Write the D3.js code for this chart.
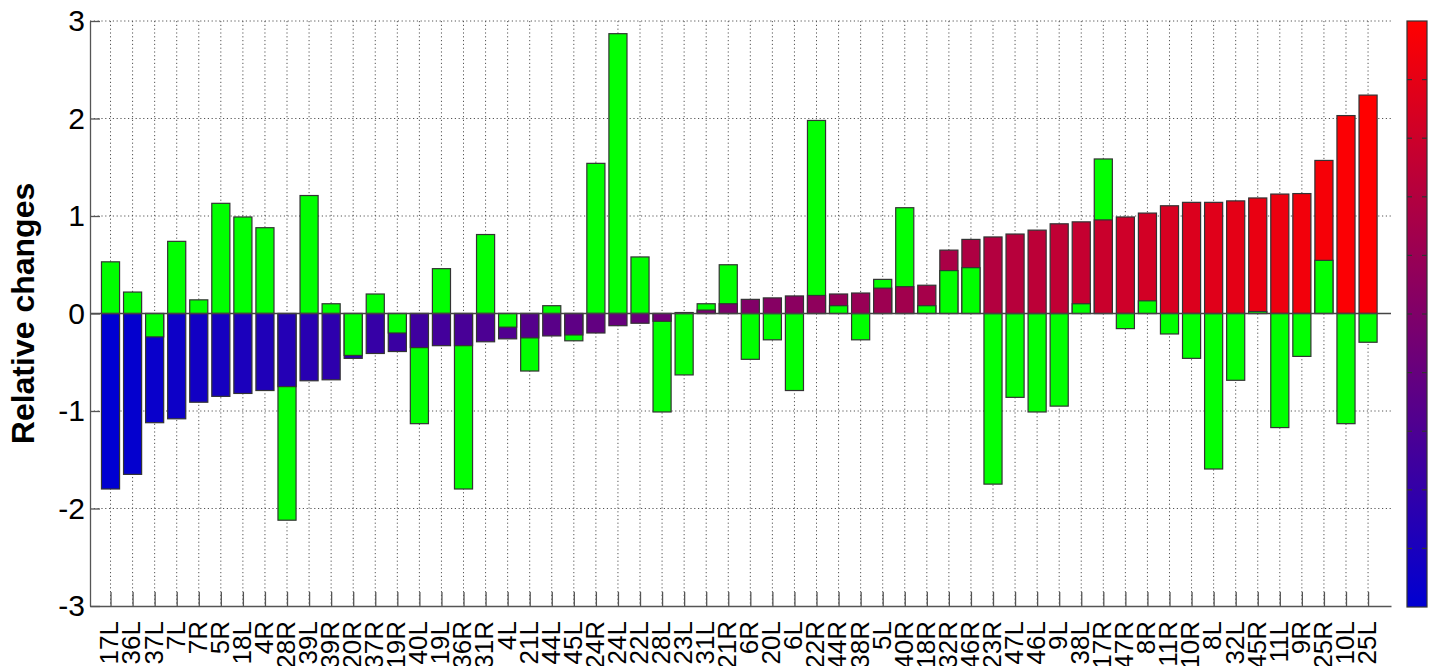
<!DOCTYPE html>
<html>
<head>
<meta charset="utf-8">
<script src="https://cdn.jsdelivr.net/npm/d3@7"></script>
<style>
	html, body { margin: 0; padding: 0; background: #fff; overflow: hidden; }
	svg { display: block; font-family: 'Liberation Sans', Arial, Helvetica, sans-serif; }
</style>
</head>
<body>
<svg id="chart" width="1435" height="666"></svg>
<script>
const labels = ['17L', '36L', '37L', '7L', '7R', '5R', '18L', '4R', '28R', '39L', '39R', '20R', '37R', '19R', '40L', '19L', '36R', '31R', '4L', '21L', '44L', '45L', '24R', '24L', '22L', '28L', '23L', '31L', '21R', '6R', '20L', '6L', '22R', '44R', '38R', '5L', '40R', '18R', '32R', '46R', '23R', '47L', '46L', '9L', '38L', '17R', '47R', '8R', '11R', '10R', '8L', '32L', '45R', '11L', '9R', '25R', '10L', '25L'];

// coloured series (sorted), shaded by the colormap along its rank
const colored = [-1.80, -1.65, -1.12, -1.08, -0.91, -0.85, -0.82, -0.79, -0.75, -0.69, -0.68, -0.46, -0.41, -0.39, -0.35, -0.33, -0.33, -0.29, -0.26, -0.25, -0.23, -0.22, -0.20, -0.125, -0.10, -0.08, 0.01, 0.035, 0.10, 0.145, 0.16, 0.18, 0.185, 0.20, 0.21, 0.26, 0.275, 0.29, 0.65, 0.76, 0.785, 0.815, 0.855, 0.92, 0.94, 0.96, 0.99, 1.03, 1.105, 1.14, 1.14, 1.155, 1.185, 1.225, 1.23, 1.57, 2.03, 2.24];

// green series
const green = [0.53, 0.22, -0.24, 0.74, 0.14, 1.13, 0.99, 0.88, -2.12, 1.21, 0.10, -0.43, 0.20, -0.20, -1.13, 0.46, -1.80, 0.81, -0.14, -0.59, 0.08, -0.28, 1.54, 2.87, 0.58, -1.01, -0.63, 0.10, 0.50, -0.47, -0.27, -0.79, 1.98, 0.08, -0.27, 0.35, 1.085, 0.08, 0.44, 0.47, -1.75, -0.86, -1.01, -0.95, 0.10, 1.585, -0.155, 0.13, -0.21, -0.46, -1.595, -0.685, 0.02, -1.17, -0.44, 0.545, -1.13, -0.295];

const yTicks = [-3, -2, -1, 0, 1, 2, 3];

const svg = d3.select('#chart');
const plot = { left: 90, right: 1391, top: 21, bottom: 606 };

const x = d3.scaleLinear().domain([0.07, 59.04]).range([plot.left, plot.right]);
const y = d3.scaleLinear().domain([-3, 3]).range([plot.bottom, plot.top]);
const barW = (x(2) - x(1)) * 0.82;

const colorMap = d3.scaleLinear()
	.domain([0, labels.length - 1])
	.range(['rgb(0,0,210)', 'rgb(255,0,0)'])
	.interpolate(d3.interpolateRgb);

const gridStyle = (sel) => sel
	.style('stroke', '#555')
	.style('stroke-width', 1)
	.style('stroke-dasharray', '1.2,2.6');

// grid
const grid = svg.append('g').attr('class', 'grid');
grid.selectAll('line.vgrid')
	.data(labels)
	.enter()
	.append('line')
	.attr('x1', (d, i) => x(i + 1))
	.attr('x2', (d, i) => x(i + 1))
	.attr('y1', plot.top)
	.attr('y2', plot.bottom)
	.call(gridStyle);

grid.selectAll('line.hgrid')
	.data(yTicks.filter((t) => t !== -3))
	.enter()
	.append('line')
	.attr('x1', plot.left)
	.attr('x2', plot.right)
	.attr('y1', (d) => y(d))
	.attr('y2', (d) => y(d))
	.call(gridStyle);

// bars: bigger magnitude first so the smaller one stays visible on top
const bars = [];
labels.forEach((lab, i) => {
	const pair = [
		{ i, v: colored[i], fill: colorMap(i) },
		{ i, v: green[i], fill: '#00ff00' },
	];
	pair.sort((a, b) => Math.abs(b.v) - Math.abs(a.v));
	bars.push(...pair);
});

svg.append('g')
	.selectAll('rect')
	.data(bars)
	.enter()
	.append('rect')
	.attr('x', (d) => x(d.i + 1) - barW / 2)
	.attr('width', barW)
	.attr('y', (d) => Math.min(y(d.v), y(0)))
	.attr('height', (d) => Math.abs(y(d.v) - y(0)))
	.style('fill', (d) => d.fill)
	.style('stroke', '#333')
	.style('stroke-width', 1.2);

// zero baseline
svg.append('line')
	.attr('x1', plot.left)
	.attr('x2', plot.right)
	.attr('y1', y(0))
	.attr('y2', y(0))
	.style('stroke', '#444')
	.style('stroke-width', 1.3);

// y axis
const yAxis = svg.append('g')
	.attr('transform', `translate(${plot.left},0)`)
	.call(d3.axisLeft(y).tickValues(yTicks).tickFormat(d3.format('d')).tickSizeInner(-10).tickSizeOuter(0).tickPadding(5));
yAxis.select('.domain').style('stroke', '#555').style('stroke-width', 1.3);
yAxis.selectAll('.tick line').style('stroke', '#555').style('stroke-width', 1.3);
yAxis.selectAll('.tick text')
	.style('font-size', '30px')
	.style('font-family', "'Liberation Sans', Arial, sans-serif")
	.style('fill', '#000')
	.text((d) => (d < 0 ? '-' + Math.abs(d) : d));

// x axis
const xAxis = svg.append('g')
	.attr('transform', `translate(0,${plot.bottom})`)
	.call(d3.axisBottom(x).tickValues(d3.range(1, labels.length + 1)).tickFormat((d) => labels[d - 1]).tickSizeInner(-14).tickSizeOuter(0).tickPadding(0));
xAxis.select('.domain').style('stroke', '#555').style('stroke-width', 1.3);
xAxis.selectAll('.tick line').style('stroke', '#555').style('stroke-width', 1.3);
xAxis.selectAll('.tick text')
	.attr('text-anchor', 'end')
	.attr('x', 0)
	.attr('y', 0)
	.attr('dy', '0.36em')
	.attr('transform', 'translate(-2,15) rotate(-90)')
	.style('font-size', '26px')
	.style('font-family', "'Liberation Sans', Arial, sans-serif")
	.style('fill', '#000');

// y label
svg.append('text')
	.attr('transform', `translate(34,${(plot.top + plot.bottom) / 2}) rotate(-90)`)
	.attr('text-anchor', 'middle')
	.style('font-size', '32px')
	.style('font-weight', 'bold')
	.text('Relative changes');

// colorbar
const cb = { x: 1407, w: 20, top: 21, bottom: 607 };
const defs = svg.append('defs');
const grad = defs.append('linearGradient')
	.attr('id', 'cbGrad')
	.attr('x1', 0).attr('y1', 1)
	.attr('x2', 0).attr('y2', 0);
grad.append('stop').attr('offset', '0%').attr('stop-color', colorMap.range()[0]);
grad.append('stop').attr('offset', '100%').attr('stop-color', colorMap.range()[1]);

svg.append('rect')
	.attr('x', cb.x)
	.attr('y', cb.top)
	.attr('width', cb.w)
	.attr('height', cb.bottom - cb.top)
	.style('fill', 'url(#cbGrad)')
	.style('stroke', '#333')
	.style('stroke-width', 1.2);

const cbScale = d3.scaleLinear().domain([0, 10]).range([cb.bottom, cb.top]);
const cbTicks = d3.range(1, 10);
svg.append('g')
	.selectAll('line.cbl')
	.data(cbTicks)
	.enter()
	.append('line')
	.attr('x1', cb.x)
	.attr('x2', cb.x + 5)
	.attr('y1', (d) => cbScale(d))
	.attr('y2', (d) => cbScale(d))
	.style('stroke', '#333')
	.style('stroke-width', 1.2);
svg.append('g')
	.selectAll('line.cbr')
	.data(cbTicks)
	.enter()
	.append('line')
	.attr('x1', cb.x + cb.w - 5)
	.attr('x2', cb.x + cb.w)
	.attr('y1', (d) => cbScale(d))
	.attr('y2', (d) => cbScale(d))
	.style('stroke', '#333')
	.style('stroke-width', 1.2);
</script>
</body>
</html>
